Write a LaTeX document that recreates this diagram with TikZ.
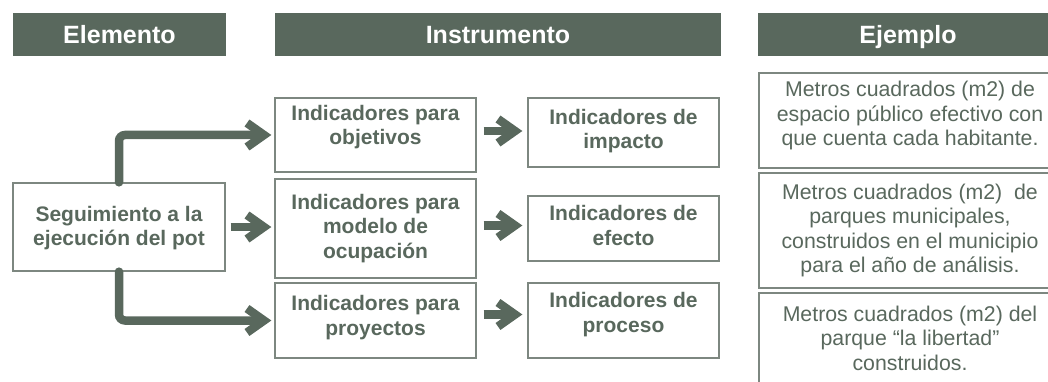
\documentclass[tikz,border=0pt]{standalone}
\usepackage{fontspec}
\setmainfont{Liberation Sans}
\usetikzlibrary{arrows.meta}
\definecolor{dg}{RGB}{89,104,93}
\definecolor{bd}{RGB}{125,135,128}
\begin{document}
\begin{tikzpicture}[x=1pt,y=-1pt,
  hdr/.style={fill=dg, draw=none, text=white, font=\fontsize{25}{30}\selectfont\bfseries, inner sep=0, text height=18pt, text depth=0pt},
  box/.style={draw=bd, line width=1.3pt, fill=white, inner sep=0},
  btext/.style={align=center, text=dg, inner sep=0, font=\fontsize{21}{24.5}\selectfont\bfseries},
  etext/.style={align=center, text=dg, inner sep=0, font=\fontsize{21.3}{24.5}\selectfont},
  tip/.style={-{Straight Barb[length=17pt,width=24pt]}},
  conn/.style={draw=dg, line width=8.5pt, line cap=round, rounded corners=6pt, tip},
  conntwo/.style={draw=dg, line width=8.5pt, tip}]
\useasboundingbox (0,0) rectangle (1048,382);
\clip (0,0) rectangle (1048,382);
% headers
\node[hdr, minimum width=213, minimum height=43] (h1) at (119.5,34.5) {Elemento};
\node[hdr, minimum width=446, minimum height=43] (h2) at (498,34.5) {Instrumento};
\node[hdr, minimum width=300, minimum height=43] (h3) at (908,34.5) {Ejemplo};
% element
\node[box, minimum width=212, minimum height=88] (seg) at (119,227) {};
\node[btext] (segt) at ([yshift=-1pt]seg.center) {Seguimiento a la\\ejecución del pot};
% instrument column
\node[box, minimum width=201, minimum height=74] (i1) at (375.5,135) {};
\node[box, minimum width=201, minimum height=99] (i2) at (375.5,228.5) {};
\node[box, minimum width=201, minimum height=75] (i3) at (375.5,320.5) {};
\node[btext] (i1t) at ([yshift=8pt]i1.center) {Indicadores para\\objetivos};
\node[btext] (i2t) at (i2.center) {Indicadores para\\modelo de\\ocupación};
\node[btext] (i3t) at ([yshift=3pt]i3.center) {Indicadores para\\proyectos};
\node[box, minimum width=191, minimum height=69] (r1) at (623.5,132.5) {};
\node[box, minimum width=191, minimum height=65] (r2) at (623.5,228.5) {};
\node[box, minimum width=191, minimum height=75] (r3) at (623.5,320.5) {};
\node[btext] (r1t) at ([yshift=1.5pt]r1.center) {Indicadores de\\impacto};
\node[btext] (r2t) at ([yshift=3pt]r2.center) {Indicadores de\\efecto};
\node[btext] (r3t) at ([yshift=6pt]r3.center) {Indicadores de\\proceso};
% examples
\node[box, minimum width=302, minimum height=95] (e1) at (910,120.5) {};
\node[box, minimum width=302, minimum height=115] (e2) at (910,230.5) {};
\node[box, minimum width=302, minimum height=110] (e3) at (910,348) {};
\node[etext] (e1t) at ([yshift=5pt]e1.center) {Metros cuadrados (m2) de\\espacio público efectivo con\\que cuenta cada habitante.};
\node[etext] (e2t) at (e2.center) {Metros cuadrados (m2) \ de\\parques municipales,\\construidos en el municipio\\para el año de análisis.};
\node[etext] (e3t) at ([yshift=10pt]e3.center) {Metros cuadrados (m2) del\\parque “la libertad”\\construidos.};
% connectors
\draw[conn, shorten >=3pt] (seg.north) |- (i1.west);
\draw[conn, shorten >=3pt] (seg.south) |- (i3.west);
\draw[conn, rounded corners=0pt, line cap=butt, shorten <=5pt, shorten >=3pt] (seg.east) -- (seg.east -| i2.west);
\draw[conntwo, shorten <=7pt, shorten >=5pt] (i1.east |- r1t.center) -- (r1.west |- r1t.center);
\draw[conntwo, shorten <=7pt, shorten >=5pt] (i2.east |- r2t.center) -- (r2.west |- r2t.center);
\draw[conntwo, shorten <=7pt, shorten >=5pt] (i3.east |- r3t.center) -- (r3.west |- r3t.center);
\end{tikzpicture}
\end{document}
